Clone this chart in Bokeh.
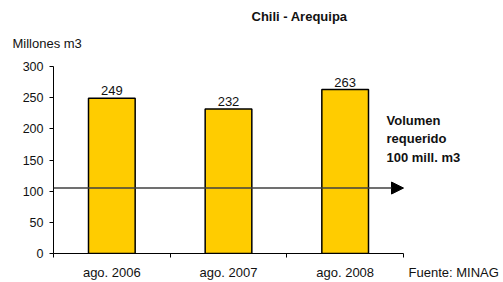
from bokeh.plotting import figure
from bokeh.models import (Range1d, FixedTicker, Label, Arrow, NormalHead,
                          ColumnDataSource, LinearAxis, Title)
from bokeh.core.properties import value
from bokeh.embed import file_html
from bokeh.resources import INLINE

# ---- data ----
CATEGORIES = ["ago. 2006", "ago. 2007", "ago. 2008"]
VOLUMES = [249, 232, 263]
REQUIRED = 105          # drawn level of the required-volume arrow
Y_TICKS = [0, 50, 100, 150, 200, 250, 300]
TITLE = "Chili - Arequipa"
Y_LABEL = "Millones m3"
NOTE_LINES = ["Volumen", "requerido", "100 mill. m3"]
SOURCE = "Fuente: MINAG"

FONT = "Liberation Sans"
FS = "13px"
TXT = "#111111"

# ---- layout (pixels) ----
PX_PER_CAT = 116.667          # width of one category slot
PX_PER_UNIT = 0.62333         # pixels per million m3
FRAME_W, FRAME_H = 447, 199

n = len(CATEGORIES)
xs = [i + 0.5 for i in range(n)]
src = ColumnDataSource(dict(x=xs, top=VOLUMES, lbl=[str(v) for v in VOLUMES]))

p = figure(frame_width=FRAME_W, frame_height=FRAME_H, title=None,
           output_backend="svg", toolbar_location=None,
           x_range=Range1d(0, FRAME_W / PX_PER_CAT),
           y_range=Range1d(0, FRAME_H / PX_PER_UNIT),
           min_border_left=53, min_border_right=3, min_border_top=0,
           min_border_bottom=29)
p.outline_line_color = None
p.grid.visible = False
p.background_fill_color = "white"
p.border_fill_color = "white"

p.vbar(x="x", top="top", bottom=0, width=0.4, source=src,
       fill_color="#FFCC00", line_color="black", line_width=1.5)
p.text(x="x", y="top", text="lbl", source=src, text_align="center",
       text_baseline="bottom", y_offset=-3, text_font=value(FONT),
       text_font_size=FS, text_color=TXT)

# x axis 1: the line from the first to the last category, ticks at boundaries
xa = p.xaxis[0]
xa.bounds = (0, n)
xa.ticker = FixedTicker(ticks=list(range(n + 1)), minor_ticks=[])
xa.major_label_overrides = {i: "" for i in range(n + 1)}
xa.major_label_text_font_size = "0px"
xa.major_label_standoff = 0
xa.major_tick_out = 4
xa.major_tick_in = 0
xa.axis_line_color = "black"
xa.major_tick_line_color = "black"

# x axis 2: category labels and the source note, same row
src_pos = n + 0.43
xa2 = LinearAxis(ticker=FixedTicker(ticks=xs + [src_pos], minor_ticks=[]),
                 major_label_overrides={**{x: c for x, c in zip(xs, CATEGORIES)},
                                        src_pos: SOURCE},
                 axis_line_color=None, major_tick_line_color=None,
                 minor_tick_line_color=None, major_tick_out=0, major_tick_in=0,
                 major_label_standoff=7, major_label_text_font=FONT,
                 major_label_text_font_size=FS, major_label_text_color=TXT)
p.add_layout(xa2, "below")

ya = p.yaxis[0]
ya.bounds = (0, 300)
ya.ticker = FixedTicker(ticks=Y_TICKS, minor_ticks=[])
ya.major_tick_out = 4
ya.major_tick_in = 0
ya.major_label_standoff = 6
ya.axis_line_color = "black"
ya.major_tick_line_color = "black"
ya.major_label_text_font = FONT
ya.major_label_text_font_size = "12.5px"
ya.major_label_text_color = TXT

# required-volume arrow
p.add_layout(Arrow(x_start=0, y_start=REQUIRED, x_end=n, y_end=REQUIRED,
                   line_color="#404040", line_width=1.5,
                   end=NormalHead(size=12, fill_color="black", line_color="black")))

# titles above the frame (first added sits closest to the frame)
p.add_layout(Title(text=Y_LABEL, align="left", offset=-41, standoff=8,
                   text_font=FONT, text_font_size=FS, text_font_style="normal",
                   text_color=TXT), "above")
p.add_layout(Title(text=TITLE, align="left", offset=198, standoff=12,
                   text_font=FONT, text_font_size=FS, text_font_style="bold",
                   text_color=TXT), "above")

# note next to the arrow (data units, inside the frame)
note_x = (386 - 53) / PX_PER_CAT
for i, t in enumerate(NOTE_LINES):
    p.add_layout(Label(x=note_x, y=(253 - (119.5 + 18.5 * i)) / PX_PER_UNIT,
                       text=t, text_font=FONT, text_font_size=FS,
                       text_font_style="bold", text_align="left",
                       text_baseline="middle", text_color=TXT))

open("out.html", "w").write(file_html(p, INLINE))
